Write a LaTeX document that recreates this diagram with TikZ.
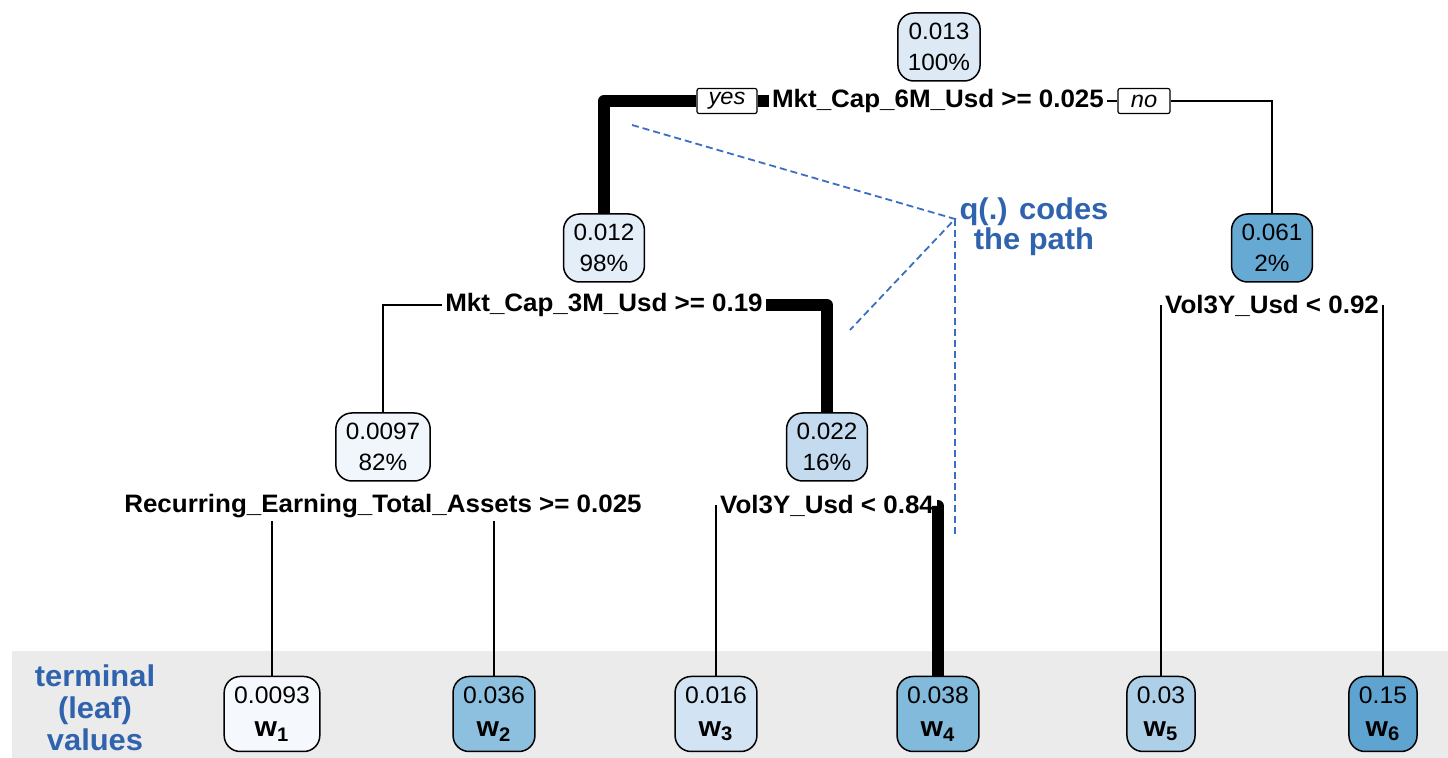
\documentclass[tikz,border=0pt]{standalone}
\usepackage{fontspec}
\setmainfont{Liberation Sans}[FakeStretch=1.03]
\definecolor{band}{HTML}{EBEBEB}
\definecolor{blueT}{HTML}{2F63AE}
\definecolor{blueL}{HTML}{3B6EC2}
\definecolor{cA}{HTML}{DDEAF6}
\definecolor{cB}{HTML}{E3EEF9}
\definecolor{cC}{HTML}{66A9D3}
\definecolor{cD}{HTML}{F0F6FC}
\definecolor{cE}{HTML}{C4DAEE}
\definecolor{cL1}{HTML}{F5F9FE}
\definecolor{cL2}{HTML}{8DC0DE}
\definecolor{cL3}{HTML}{D2E3F3}
\definecolor{cL4}{HTML}{82BADB}
\definecolor{cL5}{HTML}{ADD0E8}
\definecolor{cL6}{HTML}{5FA3D0}
\newcommand{\wlab}[1]{{\fontsize{14}{15}\selectfont\bfseries w\textsubscript{#1}}}
\begin{document}
\begin{tikzpicture}[x=0.5pt,y=-0.5pt,
  inner/.style={draw, rounded corners=8pt, line width=0.75pt, align=center,
    inner xsep=5pt, inner ysep=2pt, minimum height=34pt,
    font=\fontsize{11.8}{15.5}\selectfont},
  leaf/.style={inner, minimum height=37.5pt, font=\fontsize{12}{16.5}\selectfont},
  split/.style={font=\bfseries\fontsize{12.6}{14}\selectfont, inner sep=1.5pt},
  yn/.style={draw, fill=white, line width=0.6pt, rounded corners=1pt,
    font=\itshape\fontsize{11.5}{12}\selectfont, minimum height=12.5pt, inner ysep=1pt},
  thinedge/.style={line width=0.6pt},
  boldedge/.style={line width=6pt, line join=round},
  note/.style={text=blueT, font=\bfseries\fontsize{15}{16}\selectfont, align=center},
  qline/.style={draw=blueL, line width=0.9pt, dash pattern=on 3.5pt off 2pt}
]
\useasboundingbox (0,0) rectangle (1448,758);
\fill[band] (12,651) rectangle (1448,758);

% inner nodes
\node[inner, fill=cA] (n1) at (939,47) {0.013\\100\%};
\node[split] (s1) at (938,101) {Mkt\_Cap\_6M\_Usd >= 0.025};
\node[yn, minimum width=30pt] (yes) at (727,101) {yes};
\node[yn, minimum width=26pt] (no) at (1144,101) {no};

\node[inner, fill=cB] (n2) at (604,248) {0.012\\98\%};
\node[split] (s2) at (604,305) {Mkt\_Cap\_3M\_Usd >= 0.19};
\node[inner, fill=cC] (n3) at (1272,248) {0.061\\2\%};
\node[split] (s3) at (1272,306) {Vol3Y\_Usd < 0.92};

\node[inner, fill=cD] (n4) at (383,447) {0.0097\\82\%};
\node[split] (s4) at (383,506) {Recurring\_Earning\_Total\_Assets >= 0.025};
\node[inner, fill=cE] (n5) at (827,447) {0.022\\16\%};
\node[split] (s5) at (827,506) {Vol3Y\_Usd < 0.84};

% leaves
\node[leaf, fill=cL1] (l1) at (272,714) {0.0093\\\wlab{1}};
\node[leaf, fill=cL2] (l2) at (494,714) {0.036\\\wlab{2}};
\node[leaf, fill=cL3] (l3) at (716,714) {0.016\\\wlab{3}};
\node[leaf, fill=cL4] (l4) at (938,714) {0.038\\\wlab{4}};
\node[leaf, fill=cL5] (l5) at (1161,714) {0.03\\\wlab{5}};
\node[leaf, fill=cL6] (l6) at (1383,714) {0.15\\\wlab{6}};

% edges
\draw[boldedge] (yes.east) -- (s1.west);
\draw[boldedge] (yes.west) -| (n2.north);
\draw[thinedge] (s1.east) -- (no.west);
\draw[thinedge] (no.east) -| (n3.north);

\draw[thinedge] (s2.west) -| (n4.north);
\draw[boldedge] (s2.east) -| (n5.north);

\draw[thinedge] (s3.west) -| (l5.north);
\draw[thinedge] (s3.east) -| (l6.north);

\draw[thinedge] (l1.north) -- (l1.north |- s4.south);
\draw[thinedge] (l2.north) -- (l2.north |- s4.south);

\draw[thinedge] (s5.west) -| (l3.north);
\draw[boldedge] (s5.east) -| (l4.north);

% annotations
\node[note] (term) at (95,708) {terminal\\(leaf)\\values};
\node[note, font=\bfseries\fontsize{15}{15}\selectfont] (qtext) at (1034,227) {q(.) codes\\the path};
\coordinate (q) at (955,219);
\coordinate (qa) at (632,125);
\coordinate (qb) at (850,330);
\coordinate (qc) at (955,535);
\draw[qline] (qa) -- (q) -- (qb);
\draw[qline] (q) -- (qc);
\end{tikzpicture}
\end{document}
